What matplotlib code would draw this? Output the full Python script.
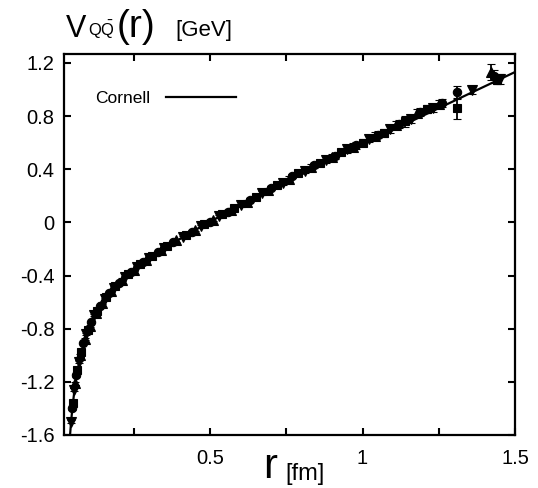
import numpy as np
import matplotlib
matplotlib.use("Agg")
import matplotlib.pyplot as plt
from matplotlib.ticker import FixedLocator

plt.rcParams['font.family'] = ['Liberation Sans', 'DejaVu Sans']
plt.rcParams['mathtext.fontset'] = 'custom'
plt.rcParams['mathtext.rm'] = 'Liberation Sans'

# Cornell fit parameters: V(r) = -a/r + sigma*r + c  (r in fm, V in GeV)
cornell_a = 0.05
cornell_sigma = 1.06
cornell_c = -0.425

# Lattice data, four data sets
r_o = [0.048, 0.062, 0.085, 0.11, 0.14, 0.17, 0.2, 0.24, 0.28, 0.33, 0.38, 0.44, 0.5,
       0.56, 0.63, 0.7, 0.77, 0.84, 0.91, 0.98, 1.05, 1.12, 1.19, 1.26, 1.31, 1.43]
v_o = [-1.40, -1.15, -0.91, -0.75, -0.63, -0.53, -0.455, -0.375, -0.30, -0.22, -0.15, -0.07, 0.005,
       0.08, 0.17, 0.26, 0.35, 0.43, 0.50, 0.58, 0.66, 0.74, 0.83, 0.90, 0.98, 1.10]
e_o = [0.01, 0.01, 0.008, 0.008, 0.008, 0.008, 0.008, 0.008, 0.008, 0.008, 0.008, 0.01, 0.01,
       0.01, 0.012, 0.015, 0.015, 0.02, 0.02, 0.025, 0.025, 0.03, 0.03, 0.03, 0.05, 0.05]

r_v = [0.044, 0.055, 0.07, 0.095, 0.12, 0.155, 0.185, 0.22, 0.26, 0.3, 0.35, 0.41, 0.47,
       0.53, 0.6, 0.67, 0.74, 0.81, 0.88, 0.95, 1.02, 1.09, 1.16, 1.23, 1.36, 1.45]
v_v = [-1.50, -1.26, -1.05, -0.84, -0.70, -0.575, -0.49, -0.41, -0.335, -0.27, -0.19, -0.11, -0.03,
       0.045, 0.13, 0.22, 0.30, 0.39, 0.47, 0.55, 0.63, 0.70, 0.78, 0.86, 1.00, 1.08]
e_v = [0.01, 0.01, 0.008, 0.008, 0.008, 0.008, 0.008, 0.008, 0.008, 0.008, 0.008, 0.01, 0.01,
       0.01, 0.012, 0.015, 0.015, 0.02, 0.02, 0.025, 0.025, 0.03, 0.03, 0.03, 0.03, 0.04]

r_s = [0.05, 0.065, 0.078, 0.1, 0.13, 0.16, 0.19, 0.23, 0.27, 0.31, 0.36, 0.42, 0.48,
       0.54, 0.58, 0.65, 0.72, 0.79, 0.86, 0.93, 1.0, 1.07, 1.14, 1.21, 1.31, 1.44]
v_s = [-1.36, -1.11, -0.975, -0.81, -0.665, -0.56, -0.475, -0.39, -0.315, -0.25, -0.175, -0.095, -0.015,
       0.06, 0.11, 0.195, 0.28, 0.37, 0.445, 0.53, 0.60, 0.67, 0.76, 0.85, 0.86, 1.07]
e_s = [0.01, 0.01, 0.008, 0.008, 0.008, 0.008, 0.008, 0.008, 0.008, 0.008, 0.008, 0.01, 0.01,
       0.01, 0.012, 0.015, 0.015, 0.02, 0.02, 0.025, 0.025, 0.03, 0.04, 0.03, 0.08, 0.03]

r_t = [0.058, 0.075, 0.09, 0.105, 0.125, 0.145, 0.175, 0.21, 0.25, 0.29, 0.34, 0.39, 0.45,
       0.51, 0.57, 0.62, 0.69, 0.76, 0.83, 0.9, 0.97, 1.04, 1.11, 1.18, 1.25, 1.42]
v_t = [-1.21, -1.00, -0.875, -0.78, -0.68, -0.605, -0.515, -0.43, -0.355, -0.285, -0.205, -0.135, -0.055,
       0.02, 0.095, 0.155, 0.245, 0.33, 0.42, 0.49, 0.57, 0.65, 0.73, 0.82, 0.89, 1.13]
e_t = [0.01, 0.01, 0.008, 0.008, 0.008, 0.008, 0.008, 0.008, 0.008, 0.008, 0.008, 0.01, 0.01,
       0.01, 0.012, 0.015, 0.015, 0.02, 0.02, 0.025, 0.03, 0.03, 0.03, 0.03, 0.03, 0.06]

x_ticks = [0.25, 0.5, 0.75, 1.0, 1.25, 1.5]
x_ticklabels = ['', '0.5', '', '1', '', '1.5']
y_ticks = [-1.6, -1.2, -0.8, -0.4, 0.0, 0.4, 0.8, 1.2]
y_ticklabels = ['-1.6', '-1.2', '-0.8', '-0.4', '0', '0.4', '0.8', '1.2']

W, H = 538, 488
fig = plt.figure(figsize=(W / 100, H / 100), dpi=100)
ax = fig.add_axes([64 / W, (H - 435) / H, 451 / W, 381 / H])

rr = np.linspace(0.03, 1.5, 600)
vv = -cornell_a / rr + cornell_sigma * rr + cornell_c
ax.plot(rr, vv, color='black', lw=1.6, label='Cornell', zorder=3)

for r, v, e, m, ms in [(r_o, v_o, e_o, 'o', 6.0), (r_v, v_v, e_v, 'v', 6.5),
                       (r_s, v_s, e_s, 's', 5.5), (r_t, v_t, e_t, '^', 6.5)]:
    ax.errorbar(r, v, yerr=e, fmt=m, color='black', ms=ms, mew=0.8,
                elinewidth=1.3, capsize=3, capthick=1.3, zorder=4)

ax.set_xlim(0.0213, 1.5)
ax.set_ylim(-1.6, 1.2675)
ax.xaxis.set_major_locator(FixedLocator(x_ticks))
ax.set_xticklabels(x_ticklabels)
ax.yaxis.set_major_locator(FixedLocator(y_ticks))
ax.set_yticklabels(y_ticklabels)
ax.tick_params(direction='in', top=True, right=True, length=5, width=1.5,
               labelsize=14.5)
ax.tick_params(axis='x', pad=10)
ax.tick_params(axis='y', pad=7)
for s in ax.spines.values():
    s.set_linewidth(1.6)

leg = ax.legend(loc='upper left', bbox_to_anchor=(0.035, 0.945), frameon=False,
                markerfirst=False, handlelength=4.0, handletextpad=0.9,
                fontsize=12.5)

# Titles built as text pieces
def fpx(x, y):
    return x / W, (H - y) / H

fig.text(*fpx(66, 37), 'V', fontsize=22, va='baseline', ha='left')
fig.text(*fpx(88, 36), r'$\mathrm{Q}\bar{\mathrm{Q}}$', fontsize=12, va='baseline', ha='left')
fig.text(*fpx(117, 37), '(r)', fontsize=28, va='baseline', ha='left')
fig.text(*fpx(175, 36), '[GeV]', fontsize=16, va='baseline', ha='left')

fig.text(*fpx(263, 487), r'$\mathrm{r}$', fontsize=30, va='bottom', ha='left')
fig.text(*fpx(285, 480), '[fm]', fontsize=17, va='baseline', ha='left')

fig.savefig('out.png', dpi=100)
